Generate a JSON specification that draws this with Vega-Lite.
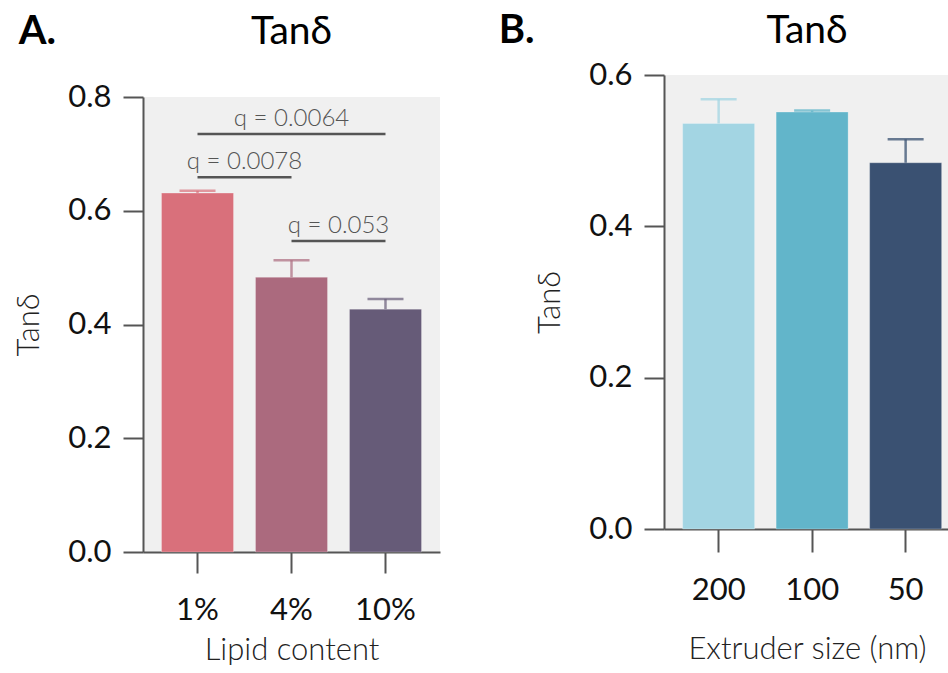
{
  "$schema": "https://vega.github.io/schema/vega-lite/v6.json",
  "padding": {"left": 13, "top": 11, "right": 0, "bottom": 0},
  "background": "#ffffff",
  "spacing": 58,
  "resolve": {"scale": {"color": "independent"}},
  "config": {
    "view": {"fill": "#f0f0f0", "stroke": null},
    "font": "Lato",
    "title": {"font": "Lato", "fontSize": 39, "fontWeight": 400, "color": "#000000"},
    "axis": {
      "grid": false,
      "domainColor": "#555555",
      "domainWidth": 2,
      "tickColor": "#555555",
      "tickWidth": 2,
      "labelFont": "Lato",
      "labelFontSize": 31,
      "labelFontWeight": 400,
      "labelColor": "#111111",
      "titleFont": "Lato",
      "titleFontSize": 31,
      "titleFontWeight": 300,
      "titleColor": "#222222"
    },
    "axisY": {"tickSize": 20, "labelPadding": 12, "titlePadding": 22},
    "axisX": {"tickSize": 21, "labelPadding": 22, "labelAngle": 0}
  },
  "hconcat": [
    {
      "title": {"text": "A.", "anchor": "start", "frame": "bounds", "fontSize": 40, "fontWeight": "bold", "offset": -39, "dx": 5},
      "spacing": 0,
      "vconcat": [
        {
          "width": 297,
          "height": 6,
          "view": {"fill": null, "stroke": null},
          "title": {"text": "Tanδ", "offset": 23},
          "data": {"values": [{"blank": 0}]},
          "mark": {"type": "point", "opacity": 0},
          "encoding": {}
        },
        {
          "width": 297,
          "height": 455,
          "data": {"values": [
            {"lipid": "1%", "tan": 0.631, "err": 0.635},
            {"lipid": "4%", "tan": 0.483, "err": 0.513},
            {"lipid": "10%", "tan": 0.427, "err": 0.445}
          ]},
          "layer": [
            {
              "mark": {"type": "bar", "stroke": "#ffffff", "strokeOpacity": 0.25, "strokeWidth": 1},
              "encoding": {
                "x": {"field": "lipid", "type": "nominal", "sort": ["1%", "4%", "10%"],
                  "scale": {"domain": ["1%", "4%", "10%"], "paddingInner": 0.234, "paddingOuter": 0.197},
                  "axis": {"title": "Lipid content", "titlePadding": 10}},
                "y": {"field": "tan", "type": "quantitative",
                  "scale": {"domain": [0, 0.8], "nice": false},
                  "axis": {"title": "Tanδ", "values": [0, 0.2, 0.4, 0.6, 0.8], "format": ".1f"}},
                "color": {"field": "lipid", "type": "nominal",
                  "scale": {"domain": ["1%", "4%", "10%"], "range": ["#d9707b", "#ab6a7e", "#665b78"]}, "legend": null}
              }
            },
            {
              "mark": {"type": "rule", "strokeWidth": 2.5, "opacity": 0.7},
              "encoding": {
                "x": {"field": "lipid", "type": "nominal"},
                "y": {"field": "tan", "type": "quantitative"},
                "y2": {"field": "err"},
                "color": {"field": "lipid", "type": "nominal", "legend": null}
              }
            },
            {
              "mark": {"type": "tick", "size": 36, "thickness": 2.5, "opacity": 0.7},
              "encoding": {
                "x": {"field": "lipid", "type": "nominal"},
                "y": {"field": "err", "type": "quantitative"},
                "color": {"field": "lipid", "type": "nominal", "legend": null}
              }
            },
            {
              "data": {"values": [
                {"from": "1%", "to": "10%", "level": 0.735, "label": "q = 0.0064", "group": "outer"},
                {"from": "1%", "to": "4%", "level": 0.659, "label": "q = 0.0078", "group": "pair"},
                {"from": "4%", "to": "10%", "level": 0.547, "label": "q = 0.053", "group": "pair"}
              ]},
              "layer": [
                {
                  "mark": {"type": "rule", "strokeWidth": 2.5, "color": "#555555"},
                  "encoding": {
                    "x": {"field": "from", "type": "nominal"},
                    "x2": {"field": "to"},
                    "y": {"field": "level", "type": "quantitative"}
                  }
                },
                {
                  "transform": [{"filter": "datum.group === 'outer'"}],
                  "mark": {"type": "text", "fontSize": 24, "fontWeight": 300, "color": "#555555", "baseline": "alphabetic", "dy": -8},
                  "encoding": {
                    "x": {"field": "from", "type": "nominal", "bandPosition": 1.806},
                    "y": {"field": "level", "type": "quantitative"},
                    "text": {"field": "label"}
                  }
                },
                {
                  "transform": [{"filter": "datum.group === 'pair'"}],
                  "mark": {"type": "text", "fontSize": 24, "fontWeight": 300, "color": "#555555", "baseline": "alphabetic", "dy": -8},
                  "encoding": {
                    "x": {"field": "from", "type": "nominal", "bandPosition": 1.153},
                    "y": {"field": "level", "type": "quantitative"},
                    "text": {"field": "label"}
                  }
                }
              ]
            }
          ]
        }
      ]
    },
    {
      "title": {"text": "B.", "anchor": "start", "frame": "bounds", "fontSize": 40, "fontWeight": "bold", "offset": -39, "dx": -36},
      "vconcat": [
        {
          "width": 286,
          "height": 454,
          "title": {"text": "Tanδ", "offset": 8},
          "data": {"values": [
            {"size": "200", "tan": 0.536, "err": 0.568},
            {"size": "100", "tan": 0.551, "err": 0.553},
            {"size": "50", "tan": 0.484, "err": 0.515}
          ]},
          "layer": [
            {
              "mark": {"type": "bar", "stroke": "#ffffff", "strokeOpacity": 0.25, "strokeWidth": 1},
              "encoding": {
                "x": {"field": "size", "type": "nominal",
                  "scale": {"domain": ["200", "100", "50"], "paddingInner": 0.23, "paddingOuter": 0.1445, "align": 0.69},
                  "axis": {"title": "Extruder size (nm)", "titlePadding": 29, "tickSize": 23, "labelPadding": 23}},
                "y": {"field": "tan", "type": "quantitative",
                  "scale": {"domain": [0, 0.6], "nice": false},
                  "axis": {"title": "Tanδ", "values": [0, 0.2, 0.4, 0.6], "format": ".1f"}},
                "color": {"field": "size", "type": "nominal",
                  "scale": {"domain": ["200", "100", "50"], "range": ["#a3d5e3", "#62b5ca", "#3a5172"]}, "legend": null}
              }
            },
            {
              "mark": {"type": "rule", "strokeWidth": 2.5, "opacity": 0.75},
              "encoding": {
                "x": {"field": "size", "type": "nominal"},
                "y": {"field": "tan", "type": "quantitative"},
                "y2": {"field": "err"},
                "color": {"field": "size", "type": "nominal", "legend": null}
              }
            },
            {
              "mark": {"type": "tick", "size": 36, "thickness": 2.5, "opacity": 0.75},
              "encoding": {
                "x": {"field": "size", "type": "nominal"},
                "y": {"field": "err", "type": "quantitative"},
                "color": {"field": "size", "type": "nominal", "legend": null}
              }
            }
          ]
        }
      ]
    }
  ]
}
